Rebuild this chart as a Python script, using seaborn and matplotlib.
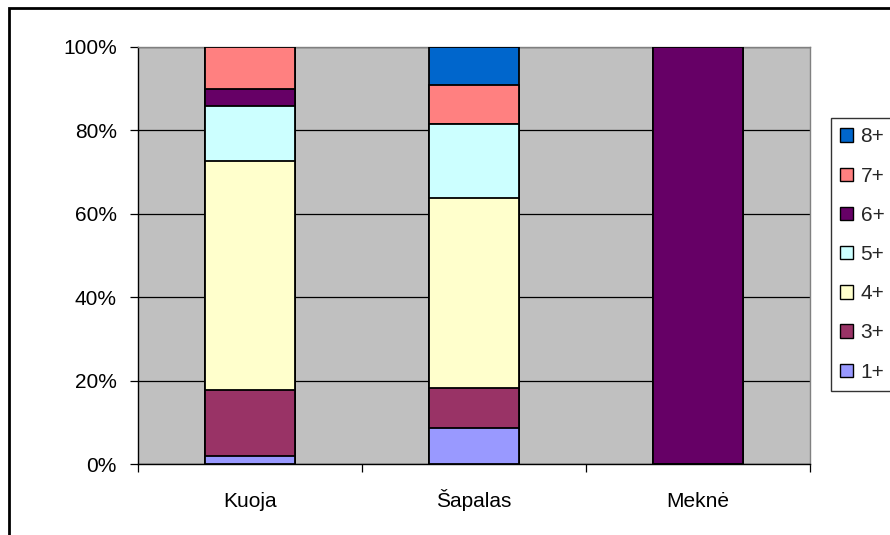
import numpy as np
import pandas as pd
import matplotlib
matplotlib.use("Agg")
import matplotlib.pyplot as plt
from matplotlib.patches import Rectangle
from matplotlib.ticker import FuncFormatter, FixedLocator
import seaborn as sns

# Age-group composition (% of catch) for each fish species
species = ["Kuoja", "Šapalas", "Meknė"]
ages = ["1+", "3+", "4+", "5+", "6+", "7+", "8+"]
kuoja = [1.8, 15.9, 55.0, 13.2, 4.1, 10.0, 0.0]
sapalas = [8.7, 9.6, 45.4, 17.9, 0.0, 9.3, 9.1]
mekne = [0.0, 0.0, 0.0, 0.0, 100.0, 0.0, 0.0]
age_colors = ["#9999FF", "#993366", "#FFFFCC", "#CCFFFF", "#660066", "#FF8080", "#0066CC"]
y_ticks = [0, 20, 40, 60, 80, 100]

sns.set_theme(style="white")
plt.rcParams["font.family"] = ["Liberation Sans", "DejaVu Sans"]
FS = 15

df = pd.DataFrame({a: [kuoja[i], sapalas[i], mekne[i]] for i, a in enumerate(ages)},
                  index=species)
cum = df[ages].cumsum(axis=1)

fig = plt.figure(figsize=(8.9, 5.35), dpi=100)
fig.patch.set_facecolor("white")
ax = fig.add_axes([138 / 890, 1 - 464 / 535, (810 - 138) / 890, (464 - 47) / 535])
ax.set_facecolor("#C0C0C0")

# Stacked bars: draw cumulative totals from the top segment down
for a, col in reversed(list(zip(ages, age_colors))):
    plot_df = pd.DataFrame({"species": species, "value": cum[a].values})
    sns.barplot(data=plot_df, x="species", y="value", color=col, width=0.406,
                edgecolor="black", linewidth=1.3, saturation=1, label=a, ax=ax,
                zorder=3, errorbar=None)

if ax.get_legend() is not None:
    ax.get_legend().remove()

ax.set_xlim(-0.5, 2.5)
ax.set_ylim(0, 100)
ax.set_yticks(y_ticks)
ax.yaxis.set_major_formatter(FuncFormatter(lambda v, p: f"{v:.0f}%"))
ax.grid(axis="y", color="black", linewidth=0.9, zorder=1)
ax.set_axisbelow(True)
ax.set_xlabel("")
ax.set_ylabel("")

for s in ["top", "right"]:
    ax.spines[s].set_color("#808080")
    ax.spines[s].set_linewidth(1.0)
for s in ["left", "bottom"]:
    ax.spines[s].set_color("black")
    ax.spines[s].set_linewidth(1.0)

ax.tick_params(axis="y", direction="out", length=5.8, width=0.9, color="black",
               pad=9.5, labelsize=FS, labelcolor="black", left=True)
ax.xaxis.set_minor_locator(FixedLocator([-0.5, 0.5, 1.5, 2.5]))
ax.tick_params(axis="x", which="major", length=0, pad=31, labelsize=FS, labelcolor="black")
ax.tick_params(axis="x", which="minor", direction="out", length=5.8, width=0.9,
               color="black", bottom=True)
for lbl in ax.get_xticklabels():
    lbl.set_verticalalignment("baseline")

handles, labels = ax.get_legend_handles_labels()
leg = fig.legend(handles, labels, loc="upper left",
                 bbox_to_anchor=(831 / 890, 1 - 118 / 535), bbox_transform=fig.transFigure,
                 borderaxespad=0, fontsize=FS, frameon=True, fancybox=False,
                 handlelength=0.62, handleheight=0.62, handletextpad=0.35,
                 labelspacing=0.97, borderpad=0.45)
leg.get_frame().set_edgecolor("black")
leg.get_frame().set_linewidth(1.0)
leg.get_frame().set_facecolor("white")
for h in leg.legend_handles:
    h.set_edgecolor("black")
    h.set_linewidth(1.0)

# Chart-area border (left and top edges visible)
fig.add_artist(Rectangle((9 / 890, -0.5), 1.5, (1 - 8 / 535) + 0.5,
                         transform=fig.transFigure, fill=False,
                         edgecolor="black", linewidth=2.0))

fig.savefig("out.png", dpi=100, facecolor="white")
